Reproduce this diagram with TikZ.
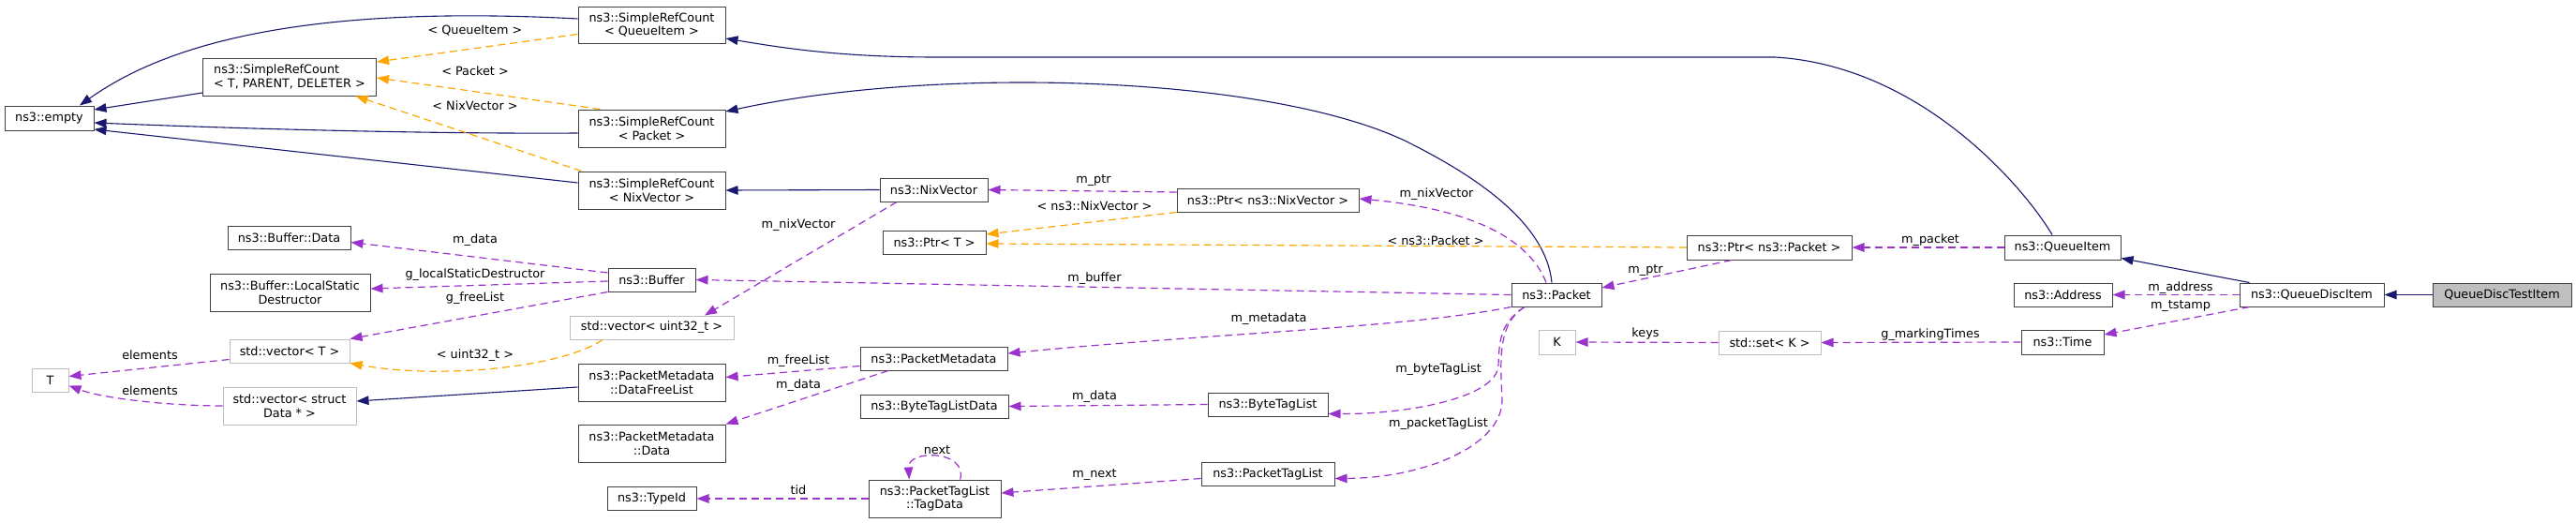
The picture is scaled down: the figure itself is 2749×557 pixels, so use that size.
\documentclass[tikz,border=0pt]{standalone}
\usepackage{fontspec}
\setmainfont{DejaVu Sans}
\usepackage{tikz}
\usetikzlibrary{arrows.meta,positioning,calc}
\usepackage{xcolor}
\definecolor{edgeNavy}{HTML}{191970}
\definecolor{edgeOrchid}{HTML}{9A32CD}
\definecolor{edgeOrange}{HTML}{FFA500}
\definecolor{boxGrey}{HTML}{BFBFBF}
\definecolor{boxEdge}{HTML}{404040}
\newcommand{\dgfont}{\fontsize{12.8}{14.5}\selectfont}
\tikzset{
  cls/.style={draw=boxEdge, line width=1pt, fill=white, inner sep=0pt, align=center, font=\dgfont},
  ext/.style={cls, draw=boxGrey},
  cur/.style={cls, fill=boxGrey},
  wh/.style 2 args={minimum width=#1pt, minimum height=#2pt},
  lbl/.style={inner sep=0pt, font=\dgfont},
  inh/.style={draw=edgeNavy, line width=1.1pt, -{Triangle[length=13pt,width=9.5pt]}},
  usg/.style={draw=edgeOrchid, line width=1.2pt, dash pattern=on 8pt off 5pt, -{Triangle[length=13pt,width=9.5pt]}},
  tpl/.style={usg, draw=edgeOrange},
}
\begin{document}
\begin{tikzpicture}[x=1pt, y=-1pt]
\useasboundingbox (0,0) rectangle (2749,557);

\node (empty) [cls, wh={95}{26}] at (52.5,126) {ns3::empty};
\node (srcT) [cls, wh={185}{40}, align=left] at (309,82) {ns3::SimpleRefCount\\< T, PARENT, DELETER >};
\node (srcQ) [cls, wh={157}{39}] at (695.5,26.5) {ns3::SimpleRefCount\\< QueueItem >};
\node (srcP) [cls, wh={157}{40}] at (695.5,137) {ns3::SimpleRefCount\\< Packet >};
\node (srcN) [cls, wh={157}{40}] at (695.5,203) {ns3::SimpleRefCount\\< NixVector >};
\node (bufData) [cls, wh={131}{25}] at (308.5,253.5) {ns3::Buffer::Data};
\node (bufLSD) [cls, wh={171}{40}] at (309.5,312) {ns3::Buffer::LocalStatic\\Destructor};
\node (vecT) [ext, wh={128}{25}] at (309,374.5) {std::vector< T >};
\node (T) [ext, wh={39}{25}] at (53.5,405.5) {T};
\node (vecData) [ext, wh={142}{40}] at (309,433) {std::vector< struct\\Data * >};
\node (buffer) [cls, wh={93}{25}] at (695.5,298.5) {ns3::Buffer};
\node (vecU) [ext, wh={175}{25}] at (695.5,349.5) {std::vector< uint32\_t >};
\node (pmFree) [cls, wh={157}{40}] at (695.5,408) {ns3::PacketMetadata\\::DataFreeList};
\node (pmData) [cls, wh={157}{40}] at (695.5,473) {ns3::PacketMetadata\\::Data};
\node (typeId) [cls, wh={95}{25}] at (695.5,532) {ns3::TypeId};
\node (nixVec) [cls, wh={115}{25}] at (996.5,202.5) {ns3::NixVector};
\node (ptrT) [cls, wh={110}{25}] at (997,258.5) {ns3::Ptr< T >};
\node (pm) [cls, wh={157}{25}] at (996.5,382.5) {ns3::PacketMetadata};
\node (btld) [cls, wh={158}{25}] at (997,433.5) {ns3::ByteTagListData};
\node (tagData) [cls, wh={141}{40}] at (997.5,532) {ns3::PacketTagList\\::TagData};
\node (ptrNix) [cls, wh={194}{25}] at (1353,213.5) {ns3::Ptr< ns3::NixVector >};
\node (btl) [cls, wh={128}{25}] at (1353,431.5) {ns3::ByteTagList};
\node (ptl) [cls, wh={142}{25}] at (1353,505.5) {ns3::PacketTagList};
\node (packet) [cls, wh={96}{25}] at (1661,314.5) {ns3::Packet};
\node (K) [ext, wh={39}{26}] at (1661.5,365) {K};
\node (ptrPkt) [cls, wh={176}{26}] at (1888,264) {ns3::Ptr< ns3::Packet >};
\node (setK) [ext, wh={109}{25}] at (1888.5,365.5) {std::set< K >};
\node (qItem) [cls, wh={124}{26}] at (2201,264) {ns3::QueueItem};
\node (address) [cls, wh={105}{25}] at (2201.5,314.5) {ns3::Address};
\node (time) [cls, wh={88}{26}] at (2201,365) {ns3::Time};
\node (qdi) [cls, wh={154}{25}] at (2467,314.5) {ns3::QueueDiscItem};
\node (qdti) [cur, wh={148}{25}] at (2670,314.5) {QueueDiscTestItem};

\draw [inh] ([yshift=6.5pt]srcQ.west) .. controls (330,5) and (180,45) .. ([xshift=32.5pt]empty.north);
\draw [inh] ([yshift=-17pt]srcT.west) -- ([yshift=9pt]empty.east);
\draw [inh] ([yshift=-5pt]srcP.west) .. controls (450,143) and (250,137) .. ([yshift=-5pt]empty.east);
\draw [inh] ([yshift=8pt]srcN.west) -- ([yshift=-12pt]empty.east);
\draw [inh] (nixVec.west) -- (srcN.east);
\draw [inh] ([yshift=-5pt]pmFree.west) -- ([yshift=5pt]vecData.east);
\draw [inh] ([xshift=-5pt]packet.north) .. controls (1650,240) and (1580,190) .. (1499,150) .. controls (1350,80) and (1000,70) .. ([yshift=18pt]srcP.east);
\draw [inh] ([xshift=-11pt]qItem.north) .. controls (2160,200) and (2050,70) .. (1894,61) -- (1000,61) .. controls (900,61) and (840,52) .. ([yshift=-14.5pt]srcQ.east);
\draw [inh] ([xshift=11pt]qdi.north west) -- ([yshift=2pt]qItem.south east);
\draw [inh] (qdti.west) -- (qdi.east);

\draw [tpl] ([yshift=-10pt]srcQ.west) -- ([yshift=16pt]srcT.east);
\draw [tpl] ([xshift=-55pt]srcP.north) -- ([yshift=-1pt]srcT.east);
\draw [tpl] ([xshift=4pt]srcN.north west) -- ([xshift=70.5pt]srcT.south);
\draw [tpl] ([xshift=-52.5pt]vecU.south) .. controls (600,392) and (470,405) .. (vecT.south east);
\draw [tpl] (ptrNix.south west) -- ([yshift=8.5pt]ptrT.east);
\draw [tpl] (ptrPkt.west) -- ([yshift=-1.5pt]ptrT.east);

\draw [usg] ([yshift=7.5pt]buffer.west) -- ([yshift=-5pt]bufData.east);
\draw [usg] ([yshift=-1.5pt]buffer.west) -- ([yshift=4pt]bufLSD.east);
\draw [usg] (buffer.south west) -- (vecT.north east);
\draw [usg] ([yshift=-9pt]vecT.west) -- ([yshift=4pt]T.east);
\draw [usg] (vecData.west) .. controls (180,433) and (110,425) .. ([yshift=-6pt]T.east);
\draw [usg] ([xshift=-39.5pt]nixVec.south) -- ([xshift=56.5pt]vecU.north);
\draw [usg] ([yshift=8.5pt]ptrNix.west) -- (nixVec.east);
\draw [usg] ([xshift=-11pt]packet.north) .. controls (1630,250) and (1560,222) .. ([yshift=1.5pt]ptrNix.east);
\draw [usg] (packet.west) -- (buffer.east);
\draw [usg] (packet.south west) .. controls (1500,350) and (1300,355) .. ([yshift=5.5pt]pm.east);
\draw [usg] ([xshift=-34pt]packet.south) .. controls (1600,345) and (1600,365) .. (1599,390) .. controls (1597,425) and (1500,442) .. ([yshift=-10pt]btl.east);
\draw [usg] ([xshift=-34pt]packet.south) .. controls (1598,345) and (1601,385) .. (1603,425) .. controls (1605,475) and (1520,510) .. ([yshift=-5pt]ptl.east);
\draw [usg] ([xshift=-40pt]ptrPkt.south) -- ([yshift=7.5pt]packet.east);
\draw [usg] (qItem.west) -- (ptrPkt.east);
\draw [usg] (qdi.west) -- (address.east);
\draw [usg] ([xshift=11pt]qdi.south west) -- ([yshift=8pt]time.east);
\draw [usg] (time.west) -- (setK.east);
\draw [usg] (setK.west) -- (K.east);
\draw [usg] ([yshift=-8pt]pm.west) -- ([yshift=5.5pt]pmFree.east);
\draw [usg] ([xshift=-48.5pt]pm.south) -- (pmData.north east);
\draw [usg] (btl.west) -- (btld.east);
\draw [usg] ([yshift=-5pt]ptl.west) -- ([yshift=6pt]tagData.east);
\draw [usg] (tagData.west) -- (typeId.east);
\draw [usg] (tagData.37) .. controls +(8pt,32pt) and +(-2pt,32pt) .. (tagData.143);

\node (lbQ) [lbl] at (507,33) {< QueueItem >};
\node (lbP) [lbl] at (507,76) {< Packet >};
\node (lbN) [lbl] at (507,113) {< NixVector >};
\node (lbBufData) [lbl] at (507,256) {m\_data};
\node (lbLSD) [lbl] at (507,293) {g\_localStaticDestructor};
\node (lbFree) [lbl] at (507,318) {g\_freeList};
\node (lbElemA) [lbl] at (160,379) {elements};
\node (lbElemB) [lbl] at (160,417) {elements};
\node (lbU) [lbl] at (507,379) {< uint32\_t >};
\node (lbNixA) [lbl] at (852,240) {m\_nixVector};
\node (lbPtrA) [lbl] at (1167,193) {m\_ptr};
\node (lbPtrNix) [lbl] at (1168,220) {< ns3::NixVector >};
\node (lbBuffer) [lbl] at (1168,297) {m\_buffer};
\node (lbFreeList) [lbl] at (852,385) {m\_freeList};
\node (lbPmData) [lbl] at (852,411) {m\_data};
\node (lbBtlData) [lbl] at (1168,423) {m\_data};
\node (lbNext) [lbl] at (1000,480) {next};
\node (lbTid) [lbl] at (852,523) {tid};
\node (lbMNext) [lbl] at (1168,507) {m\_next};
\node (lbNixB) [lbl] at (1533,207) {m\_nixVector};
\node (lbPtrPkt) [lbl] at (1532,257) {< ns3::Packet >};
\node (lbPtrB) [lbl] at (1756,289) {m\_ptr};
\node (lbMeta) [lbl] at (1354,340) {m\_metadata};
\node (lbBtl) [lbl] at (1535,394) {m\_byteTagList};
\node (lbPtl) [lbl] at (1535,452) {m\_packetTagList};
\node (lbKeys) [lbl] at (1756,356) {keys};
\node (lbPacket) [lbl] at (2060,256) {m\_packet};
\node (lbAddr) [lbl] at (2327,307) {m\_address};
\node (lbStamp) [lbl] at (2327,327) {m\_tstamp};
\node (lbMark) [lbl] at (2060,357) {g\_markingTimes};
\end{tikzpicture}
\end{document}
